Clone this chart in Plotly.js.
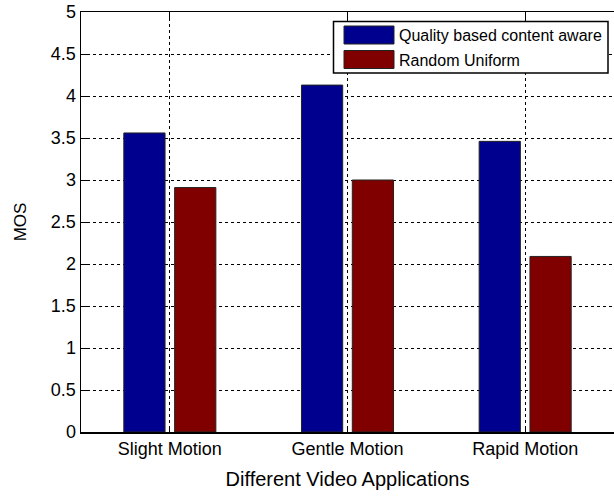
<!DOCTYPE html>
<html>
<head>
<meta charset="utf-8">
<script src="https://cdn.plot.ly/plotly-3.0.1.min.js"></script>
<style>html,body{margin:0;padding:0;background:#fff;}#chart{width:614px;height:496px;}</style>
</head>
<body>
<div id="chart"></div>
<script>
var categories = ["Slight Motion", "Gentle Motion", "Rapid Motion"];
var qualityAware = [3.56, 4.13, 3.46];
var randomUniform = [2.91, 3.00, 2.09];
var seriesNames = ["Quality based content aware", "Random Uniform"];
var seriesColors = ["#00008F", "#800000"];
var yTicks = [0, 0.5, 1, 1.5, 2, 2.5, 3, 3.5, 4, 4.5, 5];

var xIdx = categories.map(function(_, i){ return i + 1; });
var font = "Liberation Sans, Arial, sans-serif";

var M = {l: 81, r: 0, t: 12, b: 64};
var W = 614, H = 496;
var pw = W - M.l - M.r, ph = H - M.t - M.b;
function px(x){ return (x - M.l) / pw; }
function py(y){ return (H - M.b - y) / ph; }

var traces = [
  {type: "bar", name: seriesNames[0], x: xIdx, y: qualityAware, width: 0.232, offset: -0.259,
   marker: {color: seriesColors[0], line: {color: "#222", width: 1}}},
  {type: "bar", name: seriesNames[1], x: xIdx, y: randomUniform, width: 0.232, offset: 0.027,
   marker: {color: seriesColors[1], line: {color: "#222", width: 1}}}
];

// Legend drawn as box + patches + labels (MATLAB-style wide patches)
var shapes = [
  {type: "rect", xref: "paper", yref: "paper", x0: px(333.5), x1: px(608), y0: py(73), y1: py(21.5),
   fillcolor: "#fff", line: {color: "#000", width: 1.5}, layer: "above"}
];
var annotations = [];
var entryTops = [26, 50.5];
for (var i = 0; i < seriesNames.length; i++) {
  shapes.push({type: "rect", xref: "paper", yref: "paper", x0: px(344), x1: px(394),
    y0: py(entryTops[i] + 18), y1: py(entryTops[i]),
    fillcolor: seriesColors[i], line: {color: "#222", width: 1}, layer: "above"});
  annotations.push({xref: "paper", yref: "paper", x: px(397), y: py(entryTops[i] + 9.5),
    xanchor: "left", yanchor: "middle", showarrow: false, text: seriesNames[i],
    font: {size: 16, color: "#000", family: font}});
}

var layout = {
  width: W, height: H,
  margin: M,
  paper_bgcolor: "#fff", plot_bgcolor: "#fff",
  barmode: "overlay",
  font: {family: font, color: "#000", size: 18},
  xaxis: {
    range: [0.5, 3.5], tickmode: "array", tickvals: xIdx, ticktext: categories,
    showline: true, linecolor: "#000", linewidth: 1.5, mirror: "ticks",
    ticks: "inside", ticklen: 6, tickcolor: "#000",
    showgrid: true, gridcolor: "#000", gridwidth: 1, griddash: "3px,3px",
    zeroline: false, tickfont: {size: 18},
    title: {text: "Different Video Applications", font: {size: 20}, standoff: 14}
  },
  yaxis: {
    range: [0, 5], tickmode: "array", tickvals: yTicks,
    showline: true, linecolor: "#000", linewidth: 1.5, mirror: false,
    ticks: "inside", ticklen: 6, tickcolor: "#000",
    showgrid: true, gridcolor: "#000", gridwidth: 1, griddash: "3px,3px",
    zeroline: false, tickfont: {size: 18},
    title: {text: "MOS", font: {size: 17}, standoff: 20}
  },
  showlegend: false,
  shapes: shapes,
  annotations: annotations
};

Plotly.newPlot("chart", traces, layout, {displayModeBar: false, staticPlot: true});
</script>
</body>
</html>
